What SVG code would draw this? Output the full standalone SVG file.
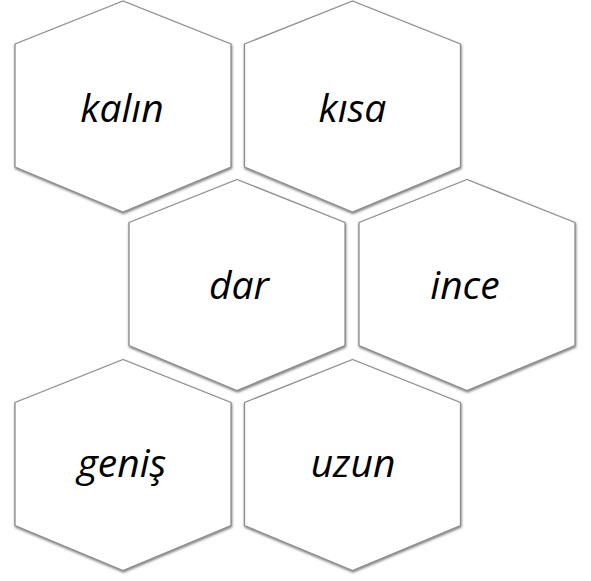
<svg xmlns="http://www.w3.org/2000/svg" width="591" height="581" viewBox="0 0 591 581">
<style>
.hex{fill:#ffffff;stroke:#8c8c8c;stroke-width:1.3;stroke-linejoin:round}
.lbl{font-family:"Open Sans","Liberation Sans",sans-serif;font-style:italic;font-size:39px;fill:#000;text-anchor:middle}
</style>
<defs>
<filter id="sh" x="-10%" y="-10%" width="120%" height="120%">
<feDropShadow dx="0.5" dy="1.5" stdDeviation="0.8" flood-color="#444" flood-opacity="0.7"/>
</filter>
<polygon id="hx" points="0,-105.5 108,-62.5 108,60.5 0,105.5 -108,60.5 -108,-62.5"/>
</defs>
<rect width="591" height="581" fill="#fff"/>
<g id="kalin" transform="translate(123,106.5)">
<use href="#hx" class="hex" filter="url(#sh)"/>
<text class="lbl" x="-1" y="15.5">kalın</text>
</g>
<g id="kisa" transform="translate(352.5,106.5)">
<use href="#hx" class="hex" filter="url(#sh)"/>
<text class="lbl" x="0" y="15.5">kısa</text>
</g>
<g id="dar" transform="translate(237,285)">
<use href="#hx" class="hex" filter="url(#sh)"/>
<text class="lbl" x="2" y="14">dar</text>
</g>
<g id="ince" transform="translate(467,285)">
<use href="#hx" class="hex" filter="url(#sh)"/>
<text class="lbl" x="-2" y="14">ince</text>
</g>
<g id="genis" transform="translate(123,465)">
<use href="#hx" class="hex" filter="url(#sh)"/>
<text class="lbl" x="-1" y="12">geniş</text>
</g>
<g id="uzun" transform="translate(352.5,465)">
<use href="#hx" class="hex" filter="url(#sh)"/>
<text class="lbl" x="0.5" y="12">uzun</text>
</g>
<g id="connectors"></g>
</svg>
